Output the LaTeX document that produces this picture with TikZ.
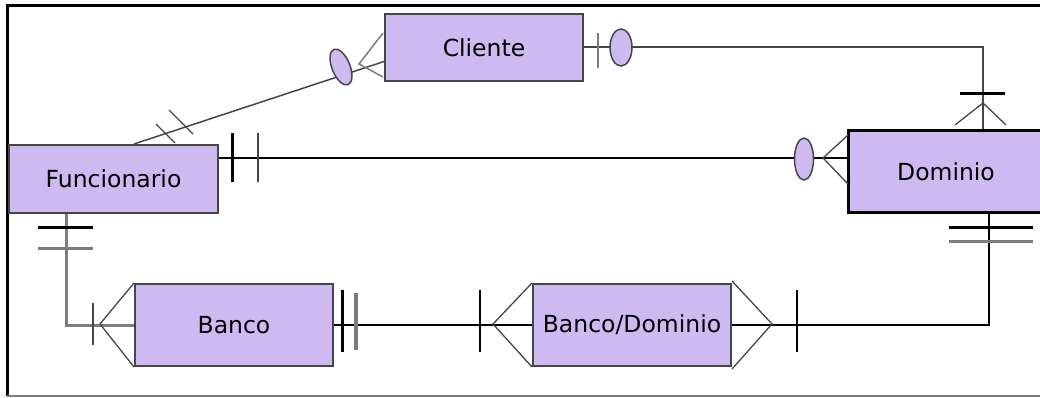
\documentclass[tikz,border=0pt]{standalone}
\usepackage{fontspec}
\setmainfont{DejaVu Sans}
\usetikzlibrary{positioning, shapes.geometric}
\definecolor{lila}{RGB}{206,185,240}
\definecolor{grisclaro}{RGB}{125,125,125}
\definecolor{grisoscuro}{RGB}{70,70,70}

\begin{document}
\begin{tikzpicture}[x=1pt,y=-1pt,
    entity/.style={rectangle,draw=grisoscuro,line width=2pt,fill=lila,inner sep=0pt,
            minimum width=198pt,minimum height=82pt,font=\fontsize{23.5}{27}\selectfont},
    oval/.style={ellipse,draw=grisoscuro,line width=1.5pt,fill=lila,inner sep=0pt},
    bar/.style={line width=3pt},
    foot/.style={grisoscuro,line width=1.3pt}]

\useasboundingbox (0,0) rectangle (1040,398);
\draw[line width=3pt] (1045,6)--(7,6)--(7,396);
\draw[grisclaro,line width=2pt] (7,396)--(1045,396);

%Entidades====================================================================
\node[entity,minimum width=209pt,minimum height=68pt] (funcionario) at (113.5,179) {Funcionario};
\node[entity,minimum height=67pt] (cliente) at (484,47.5) {Cliente};
\node[entity,draw=black,line width=3pt,minimum width=196pt,minimum height=81pt] (dominio) at (946,171.5) {Dominio};
\node[entity] (banco) at (234,325) {Banco};
\node[entity,right=198pt of banco] (bancodominio) {Banco/Dominio};

%Cliente-Dominio==============================================================
\draw[grisoscuro,line width=2pt] (cliente.east) -| ([xshift=37pt]dominio.north);
\draw[grisclaro,line width=1.5pt] (598,33)--(598,68);
\node[oval,minimum width=22pt,minimum height=37pt] (ovalcliente) at (621,47.5) {};
\draw[bar] (960,94)--(1005,94);
\draw[foot] (955,125)--(983,103)--(1006,125);

%Funcionario-Dominio==========================================================
\draw[line width=2pt] ([yshift=21pt]funcionario.east) -- ([yshift=13.5pt]dominio.west);
\draw[bar] (232,133)--(232,182);
\draw[grisoscuro,line width=2.5pt] (258,133)--(258,182);
\node[oval,minimum width=19pt,minimum height=42pt] (ovaldominio) at (804,159) {};
\draw[foot] (848,135)--(823,158)--(848,184);

%Funcionario-Cliente==========================================================
\draw[grisoscuro,line width=1.5pt] ([xshift=126pt]funcionario.north west) -- ([yshift=-14pt]cliente.west);
\draw[foot] (156,124)--(175,143);
\draw[foot] (169,110)--(193,134);
\node[oval,minimum width=18pt,minimum height=38pt,rotate=22] (ovalfuncionario) at (341,67) {};
\draw[grisclaro,line width=1.5pt] (383,33)--(359,64)--(383,77);

%Funcionario-Banco============================================================
\draw[grisclaro,line width=3pt] ([xshift=-47.5pt]funcionario.south) |- (banco.west);
\draw[bar] (38,227)--(93,227);
\draw[bar,grisclaro] (38,248)--(93,248);
\draw[grisoscuro,line width=2.5pt] (93,303)--(93,345);
\draw[foot] (banco.north west)--(100,324)--(banco.south west);

%Banco-BancoDominio===========================================================
\draw[line width=2.5pt] (banco.east) -- (bancodominio.west);
\draw[bar] (342,290)--(342,352);
\draw[bar,grisclaro,line width=3.5pt] (356,293)--(356,350);
\draw[line width=2pt] (480,290)--(480,352);
\draw[foot] (bancodominio.north west)--(493,324)--(bancodominio.south west);

%BancoDominio-Dominio=========================================================
\draw[line width=2.5pt] (bancodominio.east) -| ([xshift=43pt]dominio.south);
\draw[foot] ([yshift=2pt]bancodominio.north east)--(772,324)--([yshift=-2pt]bancodominio.south east);
\draw[line width=2pt] (797,290)--(797,352);
\draw[bar] (949,227)--(1033,227);
\draw[bar,grisclaro] (949,241)--(1033,241);

\end{tikzpicture}
\end{document}
